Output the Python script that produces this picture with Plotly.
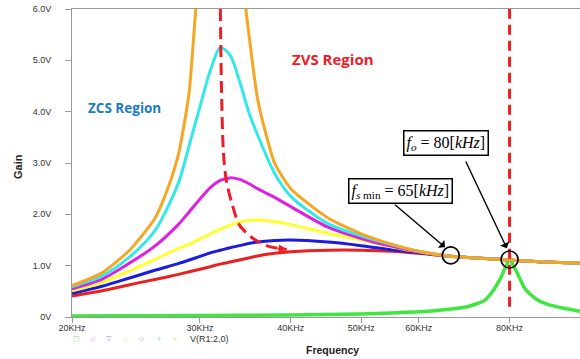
import math
import plotly.graph_objects as go

# ---------------- data ----------------
freq_khz = [20, 22, 24, 26, 28, 29, 30, 31, 32, 33, 34, 35, 36, 38, 40, 45, 50, 55, 60, 65, 70, 80, 90, 100]

red_gain = [0.41, 0.51, 0.63, 0.73, 0.83, 0.88, 0.93, 0.98, 1.03, 1.07, 1.11, 1.15, 1.19, 1.24, 1.27, 1.30, 1.30, 1.28, 1.24, 1.19, 1.16, 1.11, 1.07, 1.05]
blue_gain = [0.46, 0.60, 0.76, 0.91, 1.04, 1.11, 1.18, 1.25, 1.30, 1.35, 1.39, 1.43, 1.46, 1.49, 1.50, 1.46, 1.39, 1.31, 1.25, 1.20, 1.16, 1.11, 1.07, 1.05]
yellow_gain = [0.51, 0.67, 0.90, 1.12, 1.33, 1.42, 1.52, 1.62, 1.71, 1.79, 1.85, 1.88, 1.89, 1.86, 1.80, 1.63, 1.50, 1.37, 1.27, 1.20, 1.16, 1.11, 1.07, 1.05]
magenta_gain = [0.55, 0.74, 1.05, 1.38, 1.80, 2.05, 2.30, 2.52, 2.66, 2.71, 2.68, 2.60, 2.50, 2.33, 2.15, 1.75, 1.53, 1.38, 1.27, 1.20, 1.16, 1.11, 1.07, 1.05]
cyan_gain = [0.59, 0.80, 1.17, 1.68, 2.60, 3.35, 4.10, 4.80, 5.25, 5.10, 4.60, 4.00, 3.55, 2.80, 2.35, 1.82, 1.58, 1.41, 1.28, 1.20, 1.16, 1.11, 1.07, 1.05]

orange_left_freq = [20, 22, 24, 26, 27, 28, 28.6, 29, 29.6, 30, 30.5]
orange_left_gain = [0.61, 0.86, 1.30, 1.92, 2.45, 3.15, 3.84, 4.40, 6.00, 7.20, 9.50]
orange_right_freq = [34.0, 34.3, 34.7, 35, 36, 37, 38, 40, 45, 50, 55, 60, 65, 70, 80, 90, 100]
orange_right_gain = [8.10, 7.00, 6.00, 5.55, 4.25, 3.55, 3.00, 2.50, 1.93, 1.62, 1.42, 1.28, 1.20, 1.16, 1.11, 1.07, 1.05]

green_freq = [20, 30, 40, 50, 55, 60, 65, 70, 74, 76, 78, 79, 80, 81, 82, 84, 87, 90, 95, 100]
green_gain = [0.02, 0.03, 0.04, 0.06, 0.08, 0.10, 0.14, 0.20, 0.33, 0.52, 0.80, 0.98, 1.12, 1.00, 0.85, 0.55, 0.35, 0.25, 0.17, 0.11]

locus_freq = [32.0, 32.1, 32.3, 32.6, 33.2, 34.0, 35.5, 37.4, 39.5]
locus_gain = [6.0, 4.6, 3.25, 2.67, 2.21, 1.79, 1.53, 1.37, 1.32]

fo_khz = 80
circle_freq = [66.4, 80]
circle_gain = [1.20, 1.12]

x_tickvals = [20, 30, 40, 50, 60, 80]
x_ticktext = ["20KHz", "30KHz", "40KHz", "50KHz", "60KHz", "80KHz"]
y_tickvals = [0, 1, 2, 3, 4, 5, 6]
y_ticktext = ["0V", "1.0V", "2.0V", "3.0V", "4.0V", "5.0V", "6.0V"]

# ---------------- figure ----------------
W, H = 580, 359
L, R, T, B = 72, 0, 9, 42
PW, PH = W - L - R, H - T - B


def paper(px, py):
    """page pixel -> paper coordinates"""
    return (px - L) / PW, (H - B - py) / PH


fig = go.Figure()

LW = 3
fig.add_trace(go.Scatter(x=green_freq, y=green_gain, mode="lines",
                         line=dict(color="#3EE63E", width=3.5, shape="spline", smoothing=0.6)))
series = [
    (red_gain, "#E8221E"),
    (blue_gain, "#1C1CE0"),
    (yellow_gain, "#FFFF2E"),
    (magenta_gain, "#E020E0"),
    (cyan_gain, "#33E8E8"),
]
for vals, col in series:
    fig.add_trace(go.Scatter(x=freq_khz, y=vals, mode="lines",
                             line=dict(color=col, width=LW, shape="spline", smoothing=0.8)))
for fx, gy in [(orange_left_freq, orange_left_gain), (orange_right_freq, orange_right_gain)]:
    fig.add_trace(go.Scatter(x=fx, y=gy, mode="lines",
                             line=dict(color="#F5A623", width=LW, shape="spline", smoothing=0.6)))

# dashed locus of peaks
fig.add_trace(go.Scatter(x=locus_freq, y=locus_gain, mode="lines",
                         line=dict(color="#EE1C25", width=3, dash="12px,6px", shape="spline", smoothing=0.8)))
# vertical dashed line at fo
fig.add_trace(go.Scatter(x=[fo_khz, fo_khz], y=[0.2, 6.0], mode="lines",
                         line=dict(color="#EE1C25", width=3, dash="10px,6px")))
# circles
fig.add_trace(go.Scatter(x=circle_freq, y=circle_gain, mode="markers",
                         marker=dict(symbol="circle-open", size=17, color="black",
                                     line=dict(color="black", width=1.6))))

anns = []


def ptext(px, py, text, font, **kw):
    bx, by = paper(px, py)
    d = dict(x=bx, y=by, xref="paper", yref="paper", showarrow=False, text=text,
             font=font, xanchor="center", yanchor="middle")
    d.update(kw)
    anns.append(d)


# arrow end of the dashed locus
anns.append(dict(x=math.log10(locus_freq[-1]), y=locus_gain[-1], xref="x", yref="y",
                 text=" ", showarrow=True, ax=-12, ay=-1, arrowhead=2, arrowsize=0.8,
                 arrowwidth=2, arrowcolor="#EE1C25"))

# label boxes
serif = dict(family="Liberation Serif, Times New Roman, serif", size=16, color="black")
ptext(445.5, 142.5, "<i>f</i><sub><i>o</i></sub> = 80[<i>kHz</i>]", serif,
      bordercolor="black", borderwidth=1.5, borderpad=2, bgcolor="white")
ptext(400, 191, "<i>f</i><sub><i>s</i> min</sub> = 65[<i>kHz</i>]", serif,
      bordercolor="black", borderwidth=1.5, borderpad=2, bgcolor="white")

# arrows to circles
anns.append(dict(x=math.log10(65.2), y=1.36, xref="x", yref="y", text=" ", showarrow=True,
                 ax=-53, ay=-45, arrowhead=1, arrowsize=1.2, arrowwidth=1.4, arrowcolor="black"))
anns.append(dict(x=math.log10(79.3), y=1.34, xref="x", yref="y", text=" ", showarrow=True,
                 ax=-44, ay=-93, arrowhead=1, arrowsize=1.2, arrowwidth=1.4, arrowcolor="black"))

# region labels
ptext(124, 108, "<b>ZCS Region</b>", dict(family="Open Sans, sans-serif", size=13.5, color="#1B7BC6"))
ptext(333, 59, "<b>ZVS Region</b>", dict(family="Open Sans, sans-serif", size=15, color="#EE1C25"))

# axis titles
ptext(18, 167, "<b>Gain</b>", dict(family="Liberation Sans, Arial", size=11, color="#222"), textangle=-90)
ptext(332, 350, "<b>Frequency</b>", dict(family="Liberation Sans, Arial", size=10.5, color="#222"))

# probe legend row
legend_syms = ["□", "◇", "▽", "△", "◇", "+", "×"]
legend_cols = ["#8FD68F", "#D9A0D9", "#8C8CC8", "#E6E68C", "#C89AE6", "#8CE0E0", "#E6E08C"]
legend_px = [76, 93, 109, 126, 142, 159, 175]
for s, c, px in zip(legend_syms, legend_cols, legend_px):
    ptext(px, 339, s, dict(family="DejaVu Sans", size=7, color=c))
ptext(188, 339, "V(R1:2,0)", dict(family="Liberation Sans, Arial", size=9, color="#333"), xanchor="left")

tickfont = dict(family="Liberation Sans, Arial", size=9, color="#333")
fig.update_layout(
    width=W, height=H, margin=dict(l=L, r=R, t=T, b=B, autoexpand=False),
    paper_bgcolor="white", plot_bgcolor="white", showlegend=False,
    annotations=anns,
    xaxis=dict(type="log", range=[math.log10(20), math.log10(100)],
               tickvals=x_tickvals, ticktext=x_ticktext, tickfont=tickfont,
               showgrid=False, zeroline=False, showline=True, linecolor="#999", linewidth=1,
               mirror=True, ticks="outside", ticklen=5, tickcolor="#999",
               ticklabelstandoff=-3),
    yaxis=dict(range=[0, 6], tickvals=y_tickvals, ticktext=y_ticktext, tickfont=tickfont,
               showgrid=False, zeroline=False, showline=True, linecolor="#999", linewidth=1,
               ticks="outside", ticklen=6, tickcolor="#999", ticklabelstandoff=12,
               ticklabeloverflow="allow"),
)

# remove the default 8px page margin so the figure sits at the window origin
fig.write_html("out.html", config={"displayModeBar": False},
               post_script="document.body.style.margin='0px';")
